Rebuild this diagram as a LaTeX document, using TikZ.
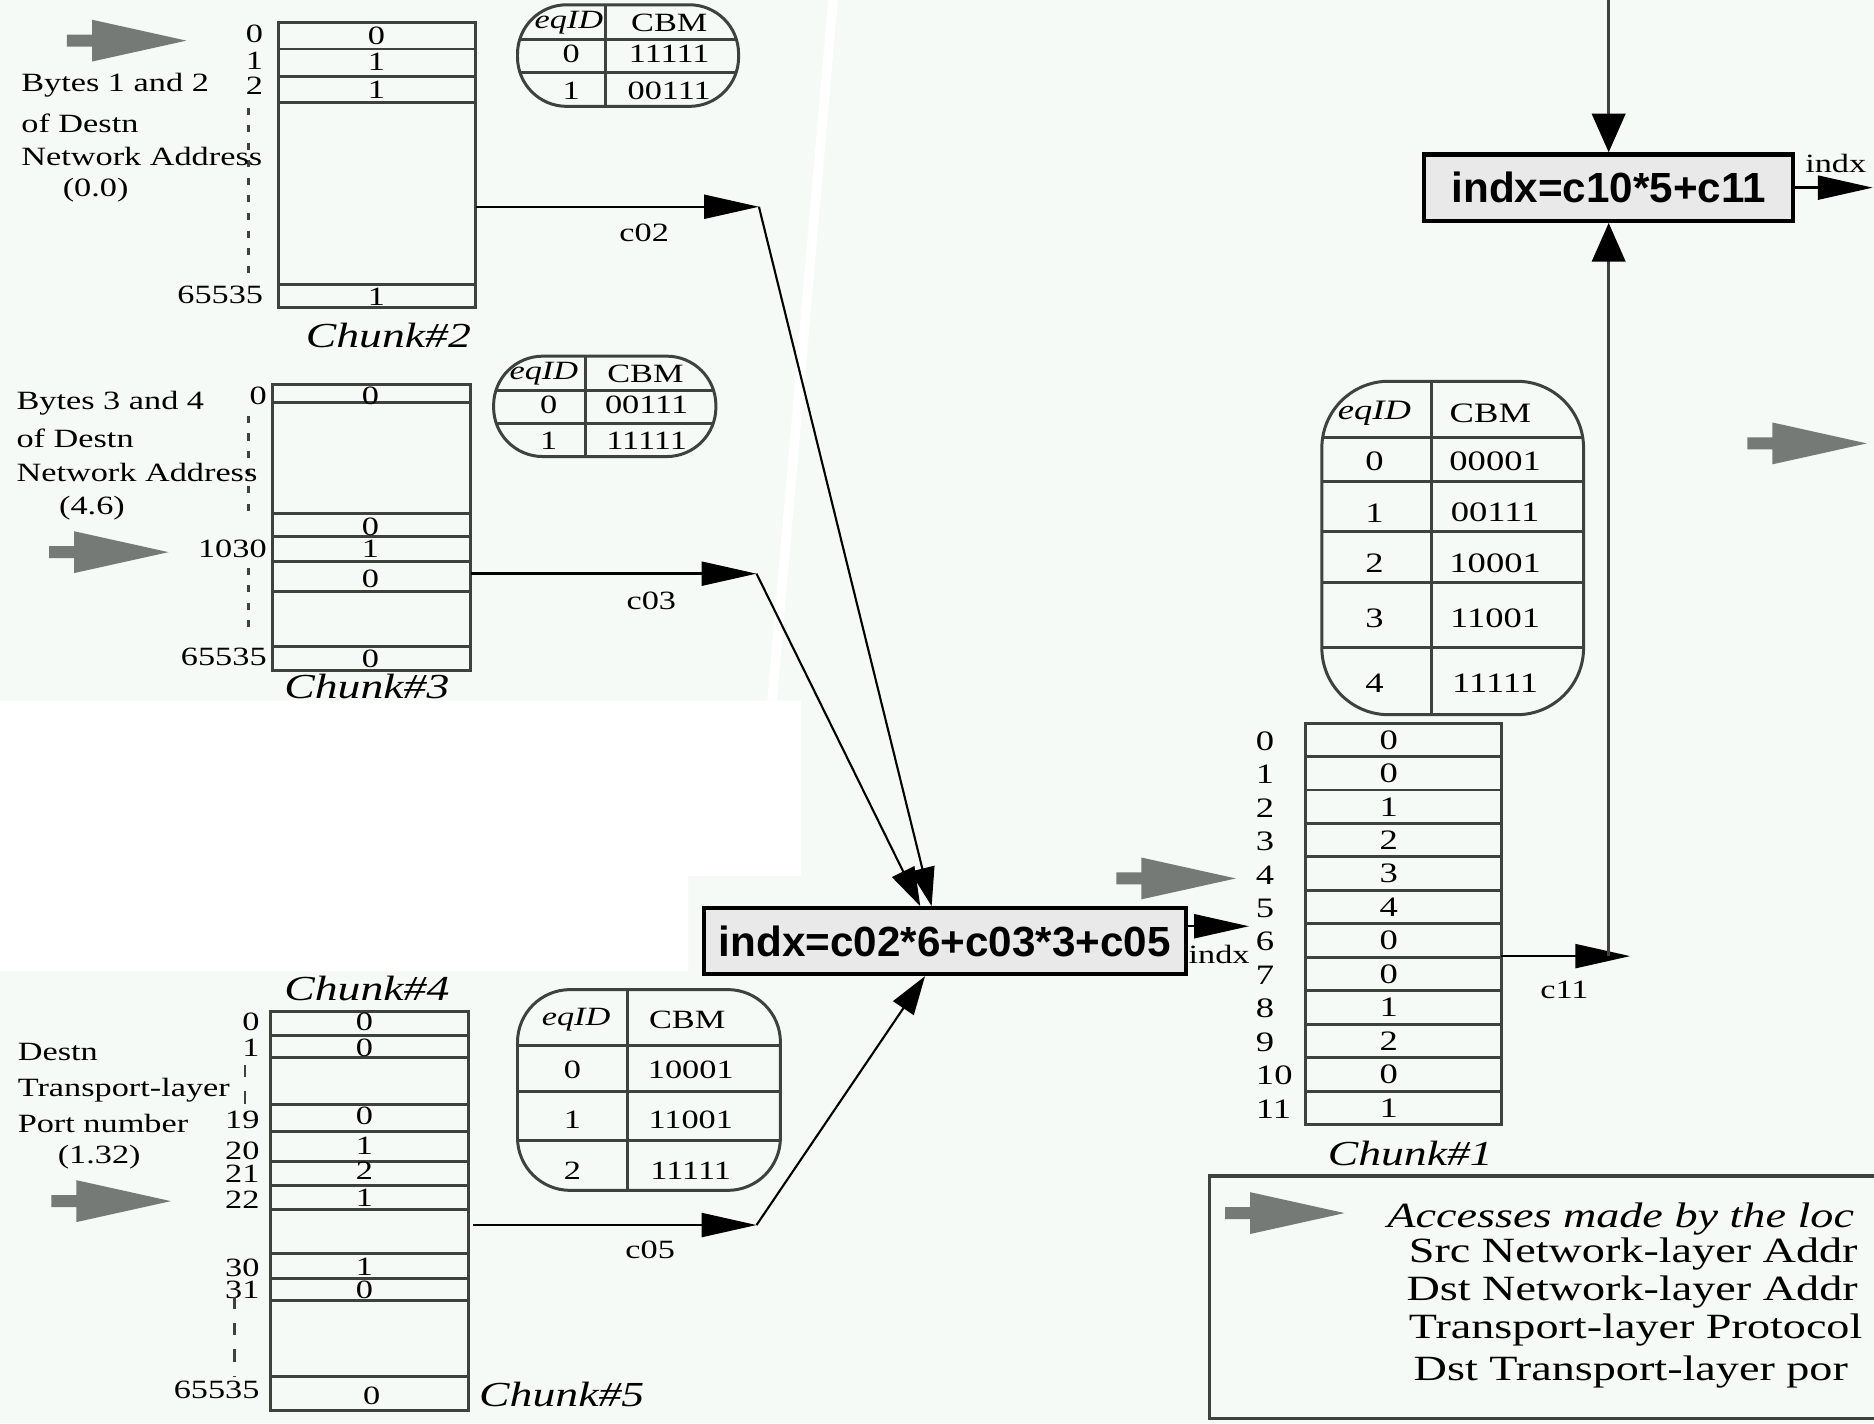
\documentclass[tikz,border=0pt]{standalone}
\usepackage{fontspec}
\setmainfont{Liberation Serif}[FakeStretch=1.3]
\newfontfamily\sansbold{Liberation Sans}
\usetikzlibrary{arrows.meta, calc, positioning}
\definecolor{bgMint}{HTML}{F5FAF7}
\definecolor{lineGrey}{HTML}{3D423D}
\definecolor{arrGrey}{HTML}{757A76}
\definecolor{boxGrey}{HTML}{E9E9E9}
\tikzset{
  % one unit is one pixel of the original drawing, y runs downwards
  every picture/.append style = {line width=0.6pt},
  tbl/.style       = {lineGrey, line width=0.85pt},
  cell/.style      = {inner sep=0pt, font=\fontsize{7.5}{9}\selectfont},
  bigcell/.style   = {inner sep=0pt, font=\fontsize{8}{10}\selectfont},
  idx/.style       = {inner sep=0pt, anchor=east, font=\fontsize{7.5}{9}\selectfont},
  desc/.style      = {inner sep=0pt, anchor=west, font=\fontsize{7.5}{9}\selectfont},
  chunklbl/.style  = {inner sep=0pt, font=\fontsize{10}{12}\selectfont\itshape},
  legtxt/.style    = {inner sep=0pt, anchor=west, font=\fontsize{10.1}{12}\selectfont},
  harr/.style      = {-{Triangle[length=15.6pt, width=6.8pt]}, line width=0.7pt, black},
  varr/.style      = {-{Triangle[length=11pt, width=7pt]}, line width=0.6pt, black},
  boxarr/.style    = {-{Triangle[length=11pt, width=9.5pt, color=black]}, line width=0.8pt, lineGrey},
  dotcol/.style    = {lineGrey, line width=0.8pt, dash pattern=on 2pt off 3pt},
  dashcol/.style   = {lineGrey, line width=0.8pt, dash pattern=on 3.5pt off 4pt},
  formbox/.style   = {draw=black, line width=1.2pt, fill=boxGrey, inner sep=0pt,
                      font=\sansbold\bfseries\fontsize{12}{14}\selectfont},
  grayarr/.pic     = {\fill[arrGrey] (-100,-5) -- (-79,-5) -- (-79,-17.5) -- (0,0)
                      -- (-79,17.5) -- (-79,5) -- (-100,5) -- cycle;},
}

\begin{document}
\begin{tikzpicture}[x=0.011952cm, y=-0.011952cm]
  \useasboundingbox (0,0) rectangle (1568,1191);
  \clip (0,0) rectangle (1568,1191);
  % --- background ---------------------------------------------------------
  \fill[bgMint] (0,0) rectangle (1568,1191);
  \fill[white] (0,586) -- (670,586) -- (670,733) -- (576,733) -- (576,813) -- (0,813) -- cycle;
  \fill[white] (693,0) -- (701,0) -- (650,586) -- (642,586) -- cycle;

  % --- combining boxes ----------------------------------------------------
  \node[formbox, minimum width=137pt, minimum height=18.7pt] (box1) at (790.5,787.5) {indx=c02*6+c03*3+c05};
  \node[formbox, minimum width=105pt, minimum height=18.9pt] (box2) at (1346,157) {indx=c10*5+c11};

  % --- chunk 2 ------------------------------------------------------------
  \pic at (156,34) {grayarr};
  \draw[tbl] (233,19) rectangle (398,257);
  \foreach \y in {41,64,86,238} \draw[tbl] (233,\y) -- (398,\y);
  \foreach \v/\y [count=\i] in {0/30,1/52,1/75,1/248} \node[cell] (c2v\i) at (315,\y) {\v};
  \foreach \t/\y [count=\i] in {0/28,1/51,2/72,65535/247} \node[idx] (c2i\i) at (221,\y) {\t};
  \draw[dotcol] (208,90) -- (208,236);
  \node[desc] (c2d1) at (17,71) {Bytes 1 and 2};
  \node[desc] (c2d2) at (17,103) {of Destn};
  \node[desc] (c2d3) at (17,131) {Network Address};
  \node[cell] (c2d4) at (80,159) {(0.0)};
  \node[chunklbl] (c2name) at (325,281) {Chunk\#2};
  % eq table
  \begin{scope}
    \clip[rounded corners=14pt] (433,4) rectangle (618,89);
    \foreach \y in {33,61} \draw[tbl] (433,\y) -- (618,\y);
    \draw[tbl] (507,4) -- (507,89);
  \end{scope}
  \draw[tbl, rounded corners=14pt] (433,4) rectangle (618,89);
  \node[cell, font=\fontsize{7.5}{9}\selectfont\itshape] (e2h1) at (476,19) {eqID};
  \node[cell] (e2h2) at (560,19) {CBM};
  \foreach \e/\c/\y [count=\i] in {0/11111/45, 1/00111/76} {
    \node[cell] (e2e\i) at (478,\y) {\e};
    \node[cell] (e2c\i) at (560,\y) {\c};
  }
  % output
  \coordinate (c2out) at (398,173);
  \coordinate (c2bend) at (635,173);
  \draw[harr] (c2out) -- (c2bend);
  \node[cell] (c02lbl) at (539,195) {c02};
  \draw[varr] (c2bend) -- ($(box1.north)+(-11,0)$);

  % --- chunk 3 ------------------------------------------------------------
  \pic at (141,462) {grayarr};
  \draw[tbl] (228,322) rectangle (394,561);
  \foreach \y in {337,430,449,470,495,541} \draw[tbl] (228,\y) -- (394,\y);
  \foreach \v/\y [count=\i] in {0/331,0/441,1/459,0/484,0/551} \node[cell] (c3v\i) at (310,\y) {\v};
  \foreach \t/\y [count=\i] in {0/331,1030/459,65535/550} \node[idx] (c3i\i) at (224,\y) {\t};
  \draw[dotcol] (208,348) -- (208,431);
  \draw[dotcol] (208,475) -- (208,533);
  \node[desc] (c3d1) at (13,337) {Bytes 3 and 4};
  \node[desc] (c3d2) at (13,367) {of Destn};
  \node[desc] (c3d3) at (13,395) {Network Address};
  \node[cell] (c3d4) at (77,425) {(4.6)};
  \node[chunklbl] (c3name) at (307,574) {Chunk\#3};
  % eq table
  \begin{scope}
    \clip[rounded corners=14pt] (413,298) rectangle (599,382);
    \foreach \y in {327,354} \draw[tbl] (413,\y) -- (599,\y);
    \draw[tbl] (490,298) -- (490,382);
  \end{scope}
  \draw[tbl, rounded corners=14pt] (413,298) rectangle (599,382);
  \node[cell, font=\fontsize{7.5}{9}\selectfont\itshape] (e3h1) at (455,313) {eqID};
  \node[cell] (e3h2) at (540,313) {CBM};
  \foreach \e/\c/\y [count=\i] in {0/00111/339, 1/11111/369} {
    \node[cell] (e3e\i) at (459,\y) {\e};
    \node[cell] (e3c\i) at (541,\y) {\c};
  }
  % output
  \coordinate (c3out) at (394,480);
  \coordinate (c3bend) at (633,480);
  \draw[harr] (c3out) -- (c3bend);
  \node[cell] (c03lbl) at (545,503) {c03};
  \draw[varr] (c3bend) -- ($(box1.north)+(-20.5,0)$);

  % --- chunk 4 / 5 --------------------------------------------------------
  \pic at (143,1005) {grayarr};
  \draw[tbl] (226,846) rectangle (392,1180);
  \foreach \y in {866,884.5,924,947,971.6,992,1011.6,1049,1069.5,1088,1152} \draw[tbl] (226,\y) -- (392,\y);
  \foreach \v/\y [count=\i] in {0/855,0/877,0/934,1/959,2/980,1/1002,1/1060,0/1079} \node[cell] (c4v\i) at (305,\y) {\v};
  \node[cell] (c4v9) at (311,1168) {0};
  \foreach \t/\y [count=\i] in {0/855,1/877,19/937,20/963,21/982,22/1004,30/1061,31/1079,65535/1163}
    \node[idx] (c4i\i) at (218,\y) {\t};
  \draw[dashcol] (205,891) -- (205,925);
  \draw[dashcol] (196,1085) -- (196,1152);
  \node[desc] (c4d1) at (14,880) {Destn};
  \node[desc] (c4d2) at (14,912) {Transport-layer};
  \node[desc] (c4d3) at (14,940) {Port number};
  \node[cell] (c4d4) at (83,968) {(1.32)};
  \node[chunklbl] (c4name) at (307,827) {Chunk\#4};
  \node[chunklbl] (c5name) at (470,1167) {Chunk\#5};
  % eq table
  \begin{scope}
    \clip[rounded corners=15pt] (433,828) rectangle (653,996);
    \foreach \y in {875,913,954} \draw[tbl] (433,\y) -- (653,\y);
    \draw[tbl] (525,828) -- (525,996);
  \end{scope}
  \draw[tbl, rounded corners=15pt] (433,828) rectangle (653,996);
  \node[cell, font=\fontsize{7.5}{9}\selectfont\itshape] (e4h1) at (482,853) {eqID};
  \node[cell] (e4h2) at (575,853) {CBM};
  \foreach \e/\c/\y [count=\i] in {0/10001/895, 1/11001/937, 2/11111/980} {
    \node[cell] (e4e\i) at (479,\y) {\e};
    \node[cell] (e4c\i) at (578,\y) {\c};
  }
  % output
  \coordinate (c5out) at (396,1025);
  \coordinate (c5bend) at (633,1025);
  \draw[harr] (c5out) -- (c5bend);
  \node[cell] (c05lbl) at (544,1046) {c05};
  \draw[varr] (c5bend) -- ($(box1.south)+(-16.5,0)$);

  % --- box 1 output into chunk 1 ------------------------------------------
  \coordinate (c1in) at (1045,775);
  \draw[harr] ($(box1.east)+(0,-12.5)$) -- (c1in);
  \node[cell] (indx1) at (1020,799) {indx};

  % --- chunk 1 ------------------------------------------------------------
  \pic at (1034,735) {grayarr};
  \draw[tbl] (1092,605) rectangle (1256,941);
  \foreach \i in {1,...,11} \draw[tbl] (1092,{605+28*\i}) -- (1256,{605+28*\i});
  \foreach \v [count=\i from 0] in {0,0,1,2,3,4,0,0,1,2,0,1} \node[bigcell] (c1v\i) at (1162,{619+28*\i}) {\v};
  \foreach \i in {0,...,11} \node[bigcell, anchor=west] (c1i\i) at (1050,{620+28*\i}) {\i};
  \node[chunklbl] (c1name) at (1180,965) {Chunk\#1};
  % eq table
  \begin{scope}
    \clip[rounded corners=19pt] (1106,319) rectangle (1325,598);
    \foreach \y in {366,403,445,487.5,542} \draw[tbl] (1106,\y) -- (1325,\y);
    \draw[tbl] (1197.5,319) -- (1197.5,598);
  \end{scope}
  \draw[tbl, rounded corners=19pt] (1106,319) rectangle (1325,598);
  \node[bigcell, font=\fontsize{8}{10}\selectfont\itshape] (e1h1) at (1150,346) {eqID};
  \node[bigcell] (e1h2) at (1247,346) {CBM};
  \foreach \e/\c/\y [count=\i] in {0/00001/386, 1/00111/429, 2/10001/471, 3/11001/517, 4/11111/572} {
    \node[bigcell] (e1e\i) at (1150,\y) {\e};
    \node[bigcell] (e1c\i) at (1251,\y) {\c};
  }
  % output
  \coordinate (c1out) at (1256,800);
  \coordinate (c11tip) at (1364,800);
  \draw[harr] (c1out) -- (c11tip);
  \node[cell] (c11lbl) at (1309,828) {c11};
  \coordinate (c11up) at (1346,800);
  \draw[boxarr] (c11up) -- (box2.south);

  % --- box 2 ------------------------------------------------------------
  \coordinate (b2top) at (1346,-5);
  \draw[boxarr] (b2top) -- (box2.north);
  \coordinate (b2out) at (1567,157);
  \draw[harr] (box2.east) -- (b2out);
  \node[cell] (indx2) at (1536,137) {indx};
  \pic at (1562,371) {grayarr};

  % --- legend ------------------------------------------------------------
  \draw[lineGrey, line width=0.9pt] (1012,984) rectangle (1640,1187);
  \pic at (1125,1015) {grayarr};
  \node[legtxt, font=\fontsize{10.1}{12}\selectfont\itshape] (lg1) at (1160,1020) {Accesses made by the loc};
  \node[legtxt] (lg2) at (1178,1049) {Src Network-layer Addr};
  \node[legtxt] (lg3) at (1176,1081) {Dst Network-layer Addr};
  \node[legtxt] (lg4) at (1178,1113) {Transport-layer Protocol};
  \node[legtxt] (lg5) at (1182,1148) {Dst Transport-layer por};
\end{tikzpicture}
\end{document}
